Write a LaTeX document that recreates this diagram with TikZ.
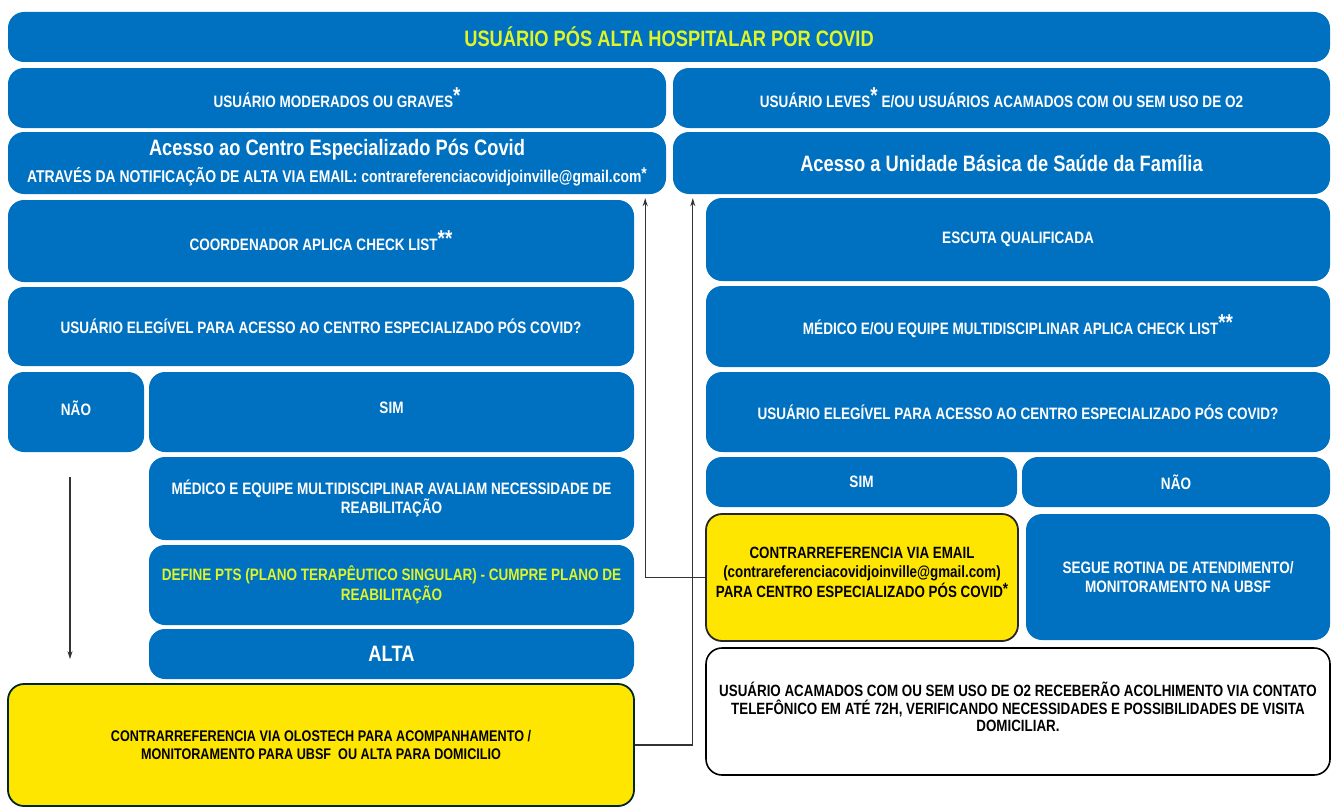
\documentclass[tikz,border=0pt]{standalone}
\usepackage{fontspec}
\usepackage{tikz}
\usetikzlibrary{arrows.meta,positioning,calc}
\newfontfamily\arialn{Liberation Sans}[FakeStretch=0.82]
\definecolor{covblue}{RGB}{0,112,192}
\definecolor{covyellow}{RGB}{255,230,0}
\definecolor{covlime}{RGB}{222,245,40}
\newcommand{\estr}{\raisebox{4pt}{\fontsize{23}{23}\selectfont *}}

\begin{document}
\begin{tikzpicture}[
  x=1pt, y=-1pt,
  box/.style={rounded corners=16pt, fill=covblue, text=white,
              align=center, inner sep=0pt,
              font=\arialn\bfseries\fontsize{16.5}{19.5}\selectfont},
  big/.style={font=\arialn\bfseries\fontsize{22.3}{26}\selectfont},
  ybox/.style={box, fill=covyellow, text=black, draw=black!85, line width=1.8pt},
  wbox/.style={box, fill=white, text=black, draw=black, line width=1.6pt},
  arr/.style={-{Stealth[length=8pt,width=5pt]}, line width=1.3pt, black!80},
]
\useasboundingbox (0,0) rectangle (1332,808);

%% ---- TOP ----
\node[box, big, minimum width=1322pt, minimum height=50pt, text=covlime]
  (top) at (669,37) {USUÁRIO PÓS ALTA HOSPITALAR POR COVID};

%% ---- LEFT COLUMN: moderados / graves ----
\node[box, minimum width=658pt, minimum height=60pt] (mod) at (337,98)
  {USUÁRIO MODERADOS OU GRAVES\estr};
\node[box, minimum width=658pt, minimum height=62pt] (cesp) at (337,163)
  {{\fontsize{22.3}{24}\selectfont Acesso ao Centro Especializado Pós Covid}\\[6pt]
   {\fontsize{17}{19}\selectfont ATRAVÉS DA NOTIFICAÇÃO DE ALTA VIA EMAIL: contrareferenciacovidjoinville@gmail.com\raisebox{3pt}{*}}};
\node[box, minimum width=626pt, minimum height=82pt] (coord) at (321,241)
  {COORDENADOR APLICA CHECK LIST\estr\estr};
\node[box, minimum width=626pt, minimum height=79pt] (eleg1) at (321,326.5)
  {USUÁRIO ELEGÍVEL PARA ACESSO AO CENTRO ESPECIALIZADO PÓS COVID?};
\node[box, minimum width=136pt, minimum height=80pt] (nao1) at (76,412)
  {NÃO\\[-11.5pt]};
\node[box, minimum width=485pt, minimum height=80pt] (sim1) at (391.5,412)
  {SIM\\[-11.5pt]};
\node[box, minimum width=485pt, minimum height=83pt] (aval) at (391.5,498.5)
  {MÉDICO E EQUIPE MULTIDISCIPLINAR AVALIAM NECESSIDADE DE\\REABILITAÇÃO};
\node[box, minimum width=485pt, minimum height=80pt, text=covlime] (pts) at (391.5,585)
  {DEFINE PTS (PLANO TERAPÊUTICO SINGULAR) - CUMPRE PLANO DE\\REABILITAÇÃO};
\node[box, big, minimum width=485pt, minimum height=50pt] (alta) at (391.5,654) {ALTA};
\node[ybox, draw=black!70!teal, minimum width=626pt, minimum height=122pt,
      font=\arialn\bfseries\fontsize{15.4}{18}\selectfont] (olos) at (321,745)
  {CONTRARREFERENCIA VIA OLOSTECH PARA ACOMPANHAMENTO /\\
   MONITORAMENTO PARA UBSF\ \ OU ALTA PARA DOMICILIO};

%% ---- RIGHT COLUMN: leves / acamados ----
\node[box, minimum width=657pt, minimum height=60pt] (lev) at (1001.5,98)
  {USUÁRIO LEVES\estr\ E/OU USUÁRIOS ACAMADOS COM OU SEM USO DE O2};
\node[box, big, minimum width=657pt, minimum height=62pt] (ubs) at (1001.5,163)
  {Acesso a Unidade Básica de Saúde da Família};
\node[box, minimum width=624pt, minimum height=83pt] (escuta) at (1018,239.5)
  {ESCUTA QUALIFICADA};
\node[box, minimum width=624pt, minimum height=81pt] (check) at (1018,326.5)
  {MÉDICO E/OU EQUIPE MULTIDISCIPLINAR APLICA CHECK LIST\estr\estr};
\node[box, minimum width=624pt, minimum height=80pt] (eleg2) at (1018,412)
  {USUÁRIO ELEGÍVEL PARA ACESSO AO CENTRO ESPECIALIZADO PÓS COVID?};
\node[box, minimum width=311pt, minimum height=50pt] (sim2) at (861.5,482) {SIM};
\node[box, minimum width=308pt, minimum height=50pt] (nao2) at (1176,482) {NÃO};
\node[ybox, minimum width=312pt, minimum height=127pt,
      font=\arialn\bfseries\fontsize{16.3}{19.5}\selectfont] (email) at (862,577.5)
  {CONTRARREFERENCIA VIA EMAIL\\
   (contrareferenciacovidjoinville@gmail.com)\\
   PARA CENTRO ESPECIALIZADO PÓS COVID\raisebox{3pt}{*}\\[-8.5pt]};
\node[box, minimum width=304pt, minimum height=126pt,
      font=\arialn\bfseries\fontsize{16.5}{19.5}\selectfont] (segue) at (1178,577)
  {SEGUE ROTINA DE ATENDIMENTO/\\MONITORAMENTO NA UBSF};
\node[wbox, minimum width=624pt, minimum height=127pt,
      font=\arialn\bfseries\fontsize{16.3}{17.5}\selectfont] (acam) at (1018,711.5)
  {USUÁRIO ACAMADOS COM OU SEM USO DE O2 RECEBERÃO ACOLHIMENTO VIA CONTATO\\
   TELEFÔNICO EM ATÉ 72H, VERIFICANDO NECESSIDADES E POSSIBILIDADES DE VISITA\\
   DOMICILIAR.\\[-8.5pt]};

%% ---- Connectors ----
\coordinate (cin) at ($(cesp.south east)+(-21,4)$);
\coordinate (uin) at ($(ubs.south west)+(20,4)$);
\draw[arr] (email.west) -| (cin);
\draw[arr] (olos.east) -| (uin);
\draw[arr, shorten <=25pt, shorten >=24pt]
  ([xshift=-6pt]nao1.south) -- ([xshift=-6pt]nao1.south |- olos.north);

\end{tikzpicture}
\end{document}
